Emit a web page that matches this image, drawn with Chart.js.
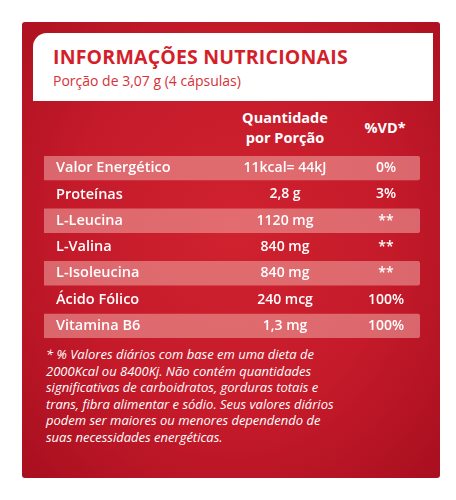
<!DOCTYPE html>
<html><head><meta charset="utf-8">
<script src="https://cdn.jsdelivr.net/npm/chart.js@4"></script>
<style>
body{margin:0;width:456px;height:500px;background:#fff;font-family:"Open Sans",sans-serif;position:relative;overflow:hidden}
#box{position:absolute;left:22px;top:22px;width:418px;height:456px;background:radial-gradient(ellipse at 50% 45%,#d0222f 0%,#c41a2a 55%,#a80f1f 100%);border-radius:3px}
#head{position:absolute;left:33px;top:33px;width:400px;height:68px;background:#fff;border-radius:14px 0 0 0}
#t1{position:absolute;left:53px;top:43px;color:#d41f2b;font-weight:700;font-size:19.5px;letter-spacing:0.2px}
#t2{position:absolute;left:53px;top:71px;color:#d8303a;font-size:14px}
.hd{position:absolute;color:#fff;font-weight:700;font-size:14.5px;text-align:center;line-height:20px}
#foot{position:absolute;left:46px;top:346px;width:390px;color:#fff;font-style:italic;font-size:13px;line-height:16.5px;white-space:nowrap}
#cw{position:absolute;left:44px;top:155px;width:376px;height:184px}
</style></head><body>
<div id="box"></div><div id="head"></div>
<div id="t1">INFORMAÇÕES NUTRICIONAIS</div>
<div id="t2">Porção de 3,07 g (4 cápsulas)</div>
<div class="hd" style="left:230px;top:108px;width:110px">Quantidade<br>por Porção</div>
<div class="hd" style="left:355px;top:118px;width:60px">%VD*</div>
<div id="cw"><canvas id="c"></canvas></div>
<div id="foot">* % Valores diários com base em uma dieta de<br>2000Kcal ou 8400Kj. Não contém quantidades<br>significativas de carboidratos,  gorduras totais e<br>trans, fibra alimentar e sódio. Seus valores diários<br>podem ser maiores ou menores dependendo de<br>suas necessidades energéticas.</div>
<script>
const nutrients=["Valor Energético","Proteínas","L-Leucina","L-Valina","L-Isoleucina","Ácido Fólico","Vitamina B6"];
const quantities=["11kcal= 44kJ","2,8 g","1120 mg","840 mg","840 mg","240 mcg","1,3 mg"];
const vd=["0%","3%","**","**","**","100%","100%"];
const bands=[[0,1],null,[0,1],null,[0,1],null,[0,1]];
const textPlugin={id:'txt',afterDatasetsDraw(ch){
 const ctx=ch.ctx,y=ch.scales.y;ctx.save();ctx.fillStyle='#fff';ctx.textBaseline='middle';
 nutrients.forEach((n,i)=>{const py=y.getPixelForValue(i);
  ctx.font='600 14.5px "Open Sans"';
  ctx.textAlign='left';ctx.fillText(n,12,py);
  ctx.textAlign='center';ctx.font='600 14px "Open Sans"';ctx.fillText(quantities[i],241,py);
  ctx.fillText(vd[i],342,py);});
 ctx.restore();}};
new Chart(document.getElementById('c'),{type:'bar',
 data:{labels:nutrients,datasets:[{data:bands,backgroundColor:'rgba(240,170,165,0.55)',borderRadius:2,barPercentage:1,categoryPercentage:0.93}]},
 options:{indexAxis:'y',responsive:true,maintainAspectRatio:false,animation:false,
  layout:{padding:0},plugins:{legend:{display:false},tooltip:{enabled:false}},
  scales:{x:{display:false,min:0,max:1},y:{display:false}}},
 plugins:[textPlugin]});
</script></body></html>
